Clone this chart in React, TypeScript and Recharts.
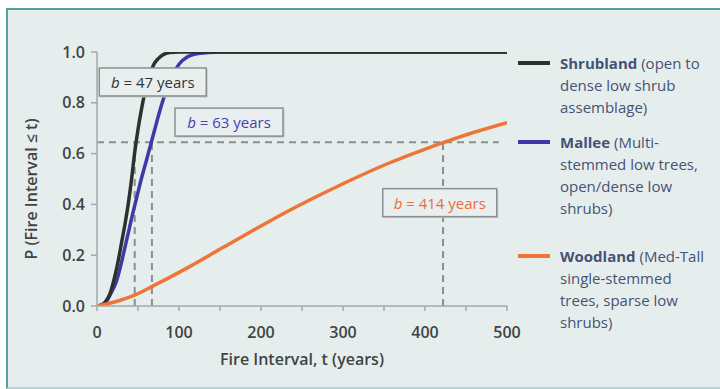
import React from 'react';
import { LineChart, Line, XAxis, YAxis, ReferenceLine, ReferenceDot, Legend, Label } from 'recharts';

// ---- data ----
const shrublandT = [0, 5, 10, 16, 22, 26, 30, 34, 38, 42, 46, 50, 54, 58, 62, 66, 70, 75, 80, 89, 100, 200, 300, 400, 500];
const shrublandP = [0, 0.004, 0.015, 0.05, 0.12, 0.18, 0.25, 0.32, 0.4, 0.495, 0.605, 0.695, 0.77, 0.835, 0.885, 0.925, 0.955, 0.975, 0.988, 0.998, 1.0, 1.0, 1.0, 1.0, 1.0];

const malleeT = [0, 5, 10, 17, 24, 29, 34, 39, 44, 49, 54, 60, 65, 70, 75, 80, 87, 93, 100, 110, 120, 135, 150, 200, 300, 400, 500];
const malleeP = [0, 0.003, 0.012, 0.05, 0.1, 0.16, 0.23, 0.3, 0.37, 0.435, 0.5, 0.57, 0.63, 0.69, 0.75, 0.805, 0.87, 0.915, 0.952, 0.98, 0.992, 0.998, 1.0, 1.0, 1.0, 1.0, 1.0];

const woodlandT = [0, 20, 46, 69, 113, 154, 195, 235, 276, 317, 357, 398, 422, 459, 500];
const woodlandP = [0, 0.015, 0.043, 0.08, 0.155, 0.231, 0.306, 0.377, 0.444, 0.507, 0.564, 0.615, 0.643, 0.683, 0.722];

const seriesNames = ['Shrubland', 'Mallee', 'Woodland'];
const seriesDescriptions = [
  ['(open to', 'dense low shrub', 'assemblage)'],
  ['(Multi-', 'stemmed low trees,', 'open/dense low', 'shrubs)'],
  ['(Med-Tall', 'single-stemmed', 'trees, sparse low', 'shrubs)'],
];

const xTicks = [0, 50, 100, 150, 200, 250, 300, 350, 400, 450, 500];
const yTicks = [0, 0.2, 0.4, 0.6, 0.8, 1.0];

// b (scale) markers: year where P crosses the dashed level
const thresholdP = 0.645;
const thresholdYears = [46, 67, 422];
const thresholdEnd = 490;

// annotation labels (anchor in data coordinates)
const annotationText = ['= 47 years', '= 63 years', '= 414 years'];
const annotationX = [68, 161, 418];
const annotationY = [0.882, 0.724, 0.407];

// ---- styles ----
const COLORS = ['#2c3130', '#3d3aa8', '#ef7536'];
const ANNOT_TEXT = ['#333333', '#4a3fb0', '#e8703a'];
const ANNOT_W = [107, 108, 114];
const FONT = '"Open Sans", "DejaVu Sans", sans-serif';
const AXIS_COLOR = '#a3a8a8';
const TEXT_COLOR = '#404444';
const LEGEND_COLOR = '#465275';
const LEGEND_GAPS = [0, 13, 26];

const toPoints = (t: number[], p: number[]) => t.map((x, i) => ({ t: x, p: p[i] }));
const shrublandData = toPoints(shrublandT, shrublandP);
const malleeData = toPoints(malleeT, malleeP);
const woodlandData = toPoints(woodlandT, woodlandP);

const renderLegend = () => (
  <div style={{ fontFamily: FONT, fontSize: 15, color: LEGEND_COLOR, lineHeight: '22px' }}>
    {seriesNames.map((name, i) => (
      <div key={name} style={{ display: 'flex', marginTop: LEGEND_GAPS[i] }}>
        <div style={{ width: 32, height: 4, background: COLORS[i], marginTop: 9, marginRight: 10, flex: 'none' }} />
        <div style={{ whiteSpace: 'nowrap' }}>
          {seriesDescriptions[i].map((line, j) => (
            <div key={j}>
              {j === 0 ? <b>{name} </b> : null}
              {line}
            </div>
          ))}
        </div>
      </div>
    ))}
  </div>
);

const makeAnnotationShape = (i: number) => (props: any) => {
  const { cx, cy } = props;
  const w = ANNOT_W[i];
  const h = 28;
  return (
    <g>
      <rect x={cx - w / 2 + 1.5} y={cy - h / 2 + 1.5} width={w} height={h} fill="#c4caca" />
      <rect x={cx - w / 2} y={cy - h / 2} width={w} height={h} fill="#e9efee" stroke="#8c8f8f" strokeWidth={1.5} />
      <text x={cx} y={cy} textAnchor="middle" dominantBaseline="central" fontFamily={FONT} fontSize={15} fill={ANNOT_TEXT[i]}>
        <tspan fontStyle="italic">b</tspan> {annotationText[i]}
      </text>
    </g>
  );
};

const YTitle = (props: any) => {
  const vb = props.viewBox || { x: 40, y: 52, height: 254 };
  const x = vb.x - 9;
  const y = vb.y + vb.height / 2 + 10;
  return (
    <text
      x={x}
      y={y}
      transform={`rotate(-90 ${x} ${y})`}
      textAnchor="middle"
      dominantBaseline="central"
      fontFamily={FONT}
      fontSize={16}
      fontWeight={600}
      fill={TEXT_COLOR}
    >
      P (Fire Interval ≤ t)
    </text>
  );
};

export default function App() {
  const tickStyle = { fontFamily: FONT, fontSize: 16, fontWeight: 600, fill: TEXT_COLOR };
  return (
    <div style={{ position: 'fixed', left: 0, top: 0, width: 720, height: 389, background: '#ffffff', overflow: 'hidden' }}>
      <div
        style={{
          position: 'absolute',
          left: 6,
          top: 8,
          width: 740,
          height: 377,
          background: '#e6eeed',
          borderLeft: '2px solid #55a09b',
          borderTop: '2px solid #55a09b',
          borderBottom: '2px solid #b3d3d0',
        }}
      />
      <div style={{ position: 'absolute', left: 0, top: 0 }}>
        <LineChart width={720} height={389} margin={{ top: 52, right: 213, bottom: 53, left: 40 }}>
          <XAxis
            type="number"
            dataKey="t"
            domain={[0, 500]}
            ticks={xTicks}
            interval={0}
            tickFormatter={(v: number) => (v % 100 === 0 ? String(v) : '')}
            height={30}
            tick={tickStyle}
            tickSize={5}
            tickMargin={16}
            tickLine={{ stroke: AXIS_COLOR, strokeWidth: 1.5 }}
            axisLine={{ stroke: AXIS_COLOR, strokeWidth: 1.5 }}
            allowDataOverflow
          >
            <Label
              value="Fire Interval, t (years)"
              position="bottom"
              offset={18}
              style={{ fontFamily: FONT, fontSize: 16, fontWeight: 600, fill: TEXT_COLOR }}
            />
          </XAxis>
          <YAxis
            type="number"
            domain={[0, 1]}
            ticks={yTicks}
            interval={0}
            tickFormatter={(v: number) => v.toFixed(1)}
            width={57}
            tick={tickStyle}
            tickSize={6}
            tickMargin={6}
            tickLine={{ stroke: AXIS_COLOR, strokeWidth: 1.5 }}
            axisLine={{ stroke: AXIS_COLOR, strokeWidth: 1.5 }}
            allowDataOverflow
          >
            <Label content={<YTitle />} />
          </YAxis>

          <ReferenceLine
            segment={[{ x: 0, y: thresholdP }, { x: thresholdEnd, y: thresholdP }]}
            stroke="#8a8e8e"
            strokeWidth={2}
            strokeDasharray="7 5"
          />
          {thresholdYears.map((yr) => (
            <ReferenceLine
              key={yr}
              segment={[{ x: yr, y: 0 }, { x: yr, y: thresholdP }]}
              stroke="#8a8e8e"
              strokeWidth={2}
              strokeDasharray="7 5"
            />
          ))}

          <Line data={malleeData} dataKey="p" type="monotone" stroke={COLORS[1]} strokeWidth={3.5} dot={false} isAnimationActive={false} name={seriesNames[1]} />
          <Line data={shrublandData} dataKey="p" type="monotone" stroke={COLORS[0]} strokeWidth={3.5} dot={false} isAnimationActive={false} name={seriesNames[0]} />
          <Line data={woodlandData} dataKey="p" type="monotone" stroke={COLORS[2]} strokeWidth={3.5} dot={false} isAnimationActive={false} name={seriesNames[2]} />

          {annotationText.map((_, i) => (
            <ReferenceDot
              key={i}
              x={annotationX[i]}
              y={annotationY[i]}
              r={0}
              shape={makeAnnotationShape(i)}
              ifOverflow="visible"
            />
          ))}

          <Legend
            layout="vertical"
            align="center"
            verticalAlign="middle"
            content={renderLegend}
            wrapperStyle={{ left: 518, top: 52, width: 200, bottom: 'auto', right: 'auto' }}
          />
        </LineChart>
      </div>
    </div>
  );
}
